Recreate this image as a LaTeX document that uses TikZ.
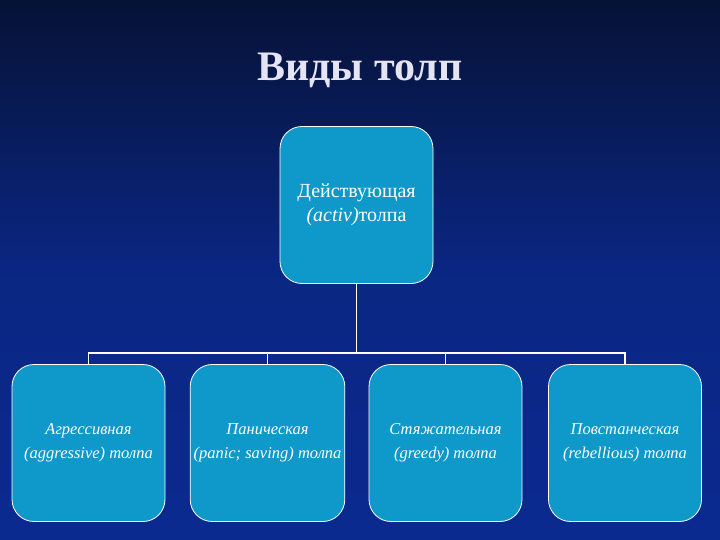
\documentclass[tikz,border=0pt]{standalone}
\usepackage{fontspec}
\setmainfont{Liberation Serif}
\usetikzlibrary{positioning}

\definecolor{bgtop}{HTML}{061236}
\definecolor{bgbot}{HTML}{0B2A90}
\definecolor{boxfill}{HTML}{0F98CA}
\definecolor{titlecol}{HTML}{E4E4F4}

\begin{document}
\begin{tikzpicture}[
    x=1pt, y=-1pt,
    every node/.style={
      rounded corners=22pt,
      draw=white,
      fill=boxfill,
      text=white,
      align=center,
      minimum width=153pt,
      minimum height=157pt,
      line width=0.8pt
    },
    kind/.style={
      font=\itshape\fontsize{16.5}{24}\selectfont
    }
    ]
    \shade[top color=bgtop, bottom color=bgbot, middle color=bgbot!85!bgtop]
      (0,0) rectangle (720,540);
    \useasboundingbox (0,0) rectangle (720,540);

    \node[draw=none, fill=none, minimum width=0pt, minimum height=0pt,
      text=titlecol, font=\bfseries\fontsize{42}{46}\selectfont]
      (title) at (360,70) {Виды толп};

    \node[font=\fontsize{20}{24}\selectfont] (act) at (356.5,205)
      {Действующая\\\textit{(activ)}толпа};

    \node[kind] (agr) at (88.5,443) {Агрессивная\\(aggressive) толпа};
    \node[kind] (pan) at (267.5,443) {Паническая\\(panic; saving) толпа};
    \node[kind] (gre) at (445.5,443) {Стяжательная\\(greedy) толпа};
    \node[kind] (reb) at (625,443) {Повстанческая\\(rebellious) толпа};

    \coordinate (bus) at (356.5,353);

    \draw[white, line width=1.2pt] (act) -- (bus);
    \foreach \n in {agr,pan,gre,reb}{
      \draw[white, line width=1.2pt] (bus) -| (\n.north);
    }
  \end{tikzpicture}
\end{document}
